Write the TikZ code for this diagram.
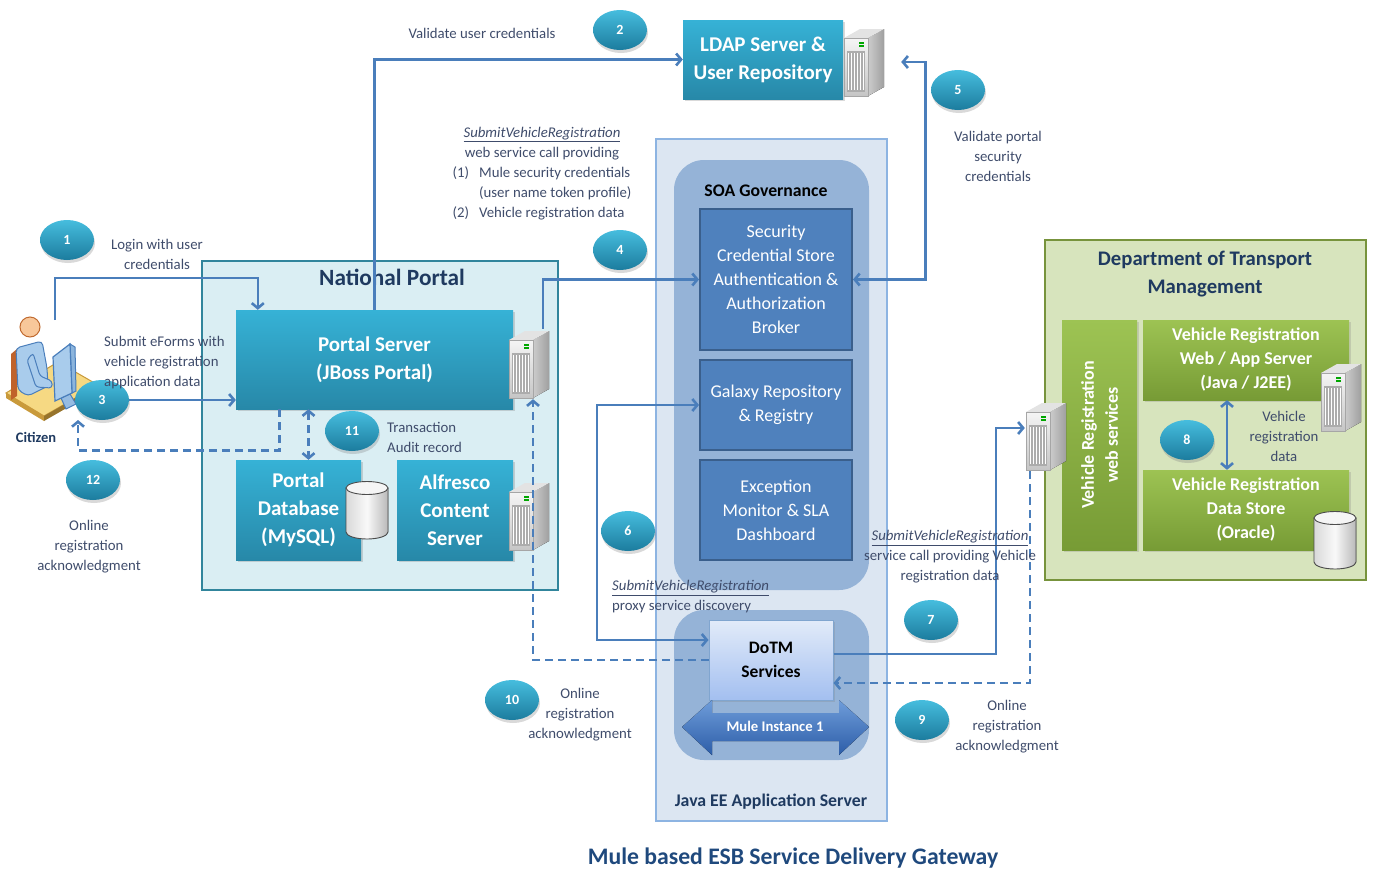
\documentclass[tikz,border=0pt]{standalone}
\usepackage{fontspec}
\setmainfont{Carlito}
\usetikzlibrary{arrows.meta, shapes.geometric, shadows}

\definecolor{flowblue}{HTML}{4A7EBB}
\definecolor{labelgrey}{HTML}{3F4C6B}
\definecolor{navy}{HTML}{1F3A60}
\definecolor{titleblue}{HTML}{1F497D}
\definecolor{cyantop}{HTML}{36B2D6}
\definecolor{cyanbot}{HTML}{2788A8}
\definecolor{steptop}{HTML}{46BDDE}
\definecolor{stepbot}{HTML}{1C7C9E}
\definecolor{soablue}{HTML}{4F81BD}
\definecolor{soaedge}{HTML}{3A5F8C}
\definecolor{soagroup}{HTML}{95B3D7}
\definecolor{javabg}{HTML}{DCE6F2}
\definecolor{javaedge}{HTML}{8DB4E2}
\definecolor{portalbg}{HTML}{DAEEF3}
\definecolor{portaledge}{HTML}{31859C}
\definecolor{dotbg}{HTML}{D7E4BD}
\definecolor{dotedge}{HTML}{77933C}
\definecolor{greentop}{HTML}{9DC353}
\definecolor{greenbot}{HTML}{779B35}
\definecolor{dotmtop}{HTML}{E2EBF9}
\definecolor{dotmbot}{HTML}{A3BFF0}
\definecolor{muletop}{HTML}{6F9DDA}
\definecolor{mulebot}{HTML}{2C5DA8}
\definecolor{deskyellow}{HTML}{F6D983}
\definecolor{deskedge}{HTML}{C99A3B}
\definecolor{chairbrown}{HTML}{C0622A}
\definecolor{bodyblue}{HTML}{A9CCEC}
\definecolor{skin}{HTML}{F8C79A}
\definecolor{skinedge}{HTML}{C06A30}

\newcommand\lblfont{\fontsize{14.8}{20}\selectfont}

\tikzset{
  flow/.style={draw=flowblue, line width=2.6, -{Straight Barb[length=5pt,width=12pt]}},
  flowboth/.style={flow, {Straight Barb[length=5pt,width=12pt]}-{Straight Barb[length=5pt,width=12pt]}},
  flowdash/.style={dash pattern=on 8pt off 5pt},
  lbl/.style={text=labelgrey, font=\lblfont, align=center, inner sep=0},
  stepno/.style={ellipse, minimum width=54, minimum height=40, inner sep=0,
    top color=steptop, bottom color=stepbot, text=white,
    font=\bfseries\fontsize{14}{16}\selectfont,
    drop shadow={shadow xshift=1pt, shadow yshift=-3pt, opacity=0.3}},
  cyanbox/.style={rectangle, top color=cyantop, bottom color=cyanbot, text=white,
    font=\bfseries\fontsize{21}{28}\selectfont, align=center, inner sep=0,
    drop shadow={shadow xshift=2pt, shadow yshift=-2pt, opacity=0.3}},
  soabox/.style={rectangle, fill=soablue, draw=soaedge, line width=2, text=white,
    font=\fontsize{18}{24}\selectfont, align=center, minimum width=152, inner sep=0},
  groupbox/.style={rectangle, rounded corners=30, fill=soagroup},
  greenbox/.style={rectangle, top color=greentop, bottom color=greenbot, text=white,
    font=\bfseries\fontsize{18}{24}\selectfont, align=center, inner sep=0,
    drop shadow={shadow xshift=2pt, shadow yshift=-2pt, opacity=0.25}},
  srvspot/.style={minimum width=42, minimum height=70, inner sep=0},
  diskspot/.style={minimum width=44, minimum height=60, inner sep=0},
  servericon/.pic={
    \fill[left color=gray!40, right color=gray!75] (4,34) -- (20,25) -- (20,-33) -- (4,-24) -- cycle;
    \fill[gray!22] (-20,-24) -- (4,-24) -- (20,-33) -- (-4,-33) -- cycle;
    \fill[top color=gray!8, bottom color=gray!45] (-20,34) rectangle (4,-24);
    \fill[gray!65] (-17,30) rectangle (1,-11);
    \foreach \i in {0,...,5}
      \draw[white, line width=0.8] (-15.5+\i*3,28) -- (-15.5+\i*3,-9);
    \fill[green!65!black] (-5,-15) rectangle (0,-17);
    \fill[green!65!black] (-5,-18.5) rectangle (0,-20.5);
    \draw[gray!70, line width=0.4] (-20,34) rectangle (4,-24);
  },
  diskicon/.pic={
    \filldraw[left color=gray!30, right color=gray!55, middle color=gray!5, draw=gray!60!black, line width=0.9]
      (-21,22) -- (-21,-22) -- (21,-22) -- (21,22) arc[start angle=0, end angle=180, x radius=21, y radius=7] -- cycle;
    \filldraw[fill=gray!8, draw=gray!60!black, line width=0.9] (0,-22) ellipse[x radius=21, y radius=6.5];
  }
}

\begin{document}
\begin{tikzpicture}[x=1pt, y=-1pt]
\useasboundingbox (0,0) rectangle (1373,873);

% areas
\node (javaee) [rectangle, fill=javabg, draw=javaedge, line width=2.5, minimum width=231, minimum height=682] at (771.5,480) {};
\node (soagov) [groupbox, minimum width=195, minimum height=430] at (771.5,375) {};
\node (mulegrp) [groupbox, minimum width=195, minimum height=150] at (771.5,685) {};
\node (natport) [rectangle, fill=portalbg, draw=portaledge, line width=2, minimum width=356, minimum height=329] at (380,425.5) {};
\node (dotarea) [rectangle, fill=dotbg, draw=dotedge, line width=2, minimum width=321, minimum height=340] at (1205.5,410) {};

\node (javaeetitle) [text=navy, font=\bfseries\fontsize{17.8}{20}\selectfont] at (771,802) {Java EE Application Server};
\node (soatitle) [font=\bfseries\fontsize{17.7}{20}\selectfont] at (766,191) {SOA Governance};
\node (natporttitle) [text=navy, font=\bfseries\fontsize{23.3}{26}\selectfont] at (392,277) {National Portal};
\node (dottitle) [text=navy, font=\bfseries\fontsize{20.7}{28}\selectfont, align=center] at (1205,274) {Department of Transport\\Management};

% LDAP
\node (ldap) [cyanbox, minimum width=160, minimum height=79] at (763,59.5) {LDAP Server \&\\User Repository};
\node (ldapsrv) [srvspot] at (864,62) {};

% national portal
\node (portal) [cyanbox, minimum width=277, minimum height=99] at (374.5,359.5) {Portal Server\\(JBoss Portal)};
\node (portsrv) [srvspot] at (529,364) {};
\node (portaldb) [cyanbox, minimum width=125, minimum height=100] at (298.5,510) {Portal\\Database\\(MySQL)};
\node (portdisk) [diskspot] at (367,510) {};
\node (alfresco) [cyanbox, minimum width=116, minimum height=100] at (455,510) {Alfresco\\Content\\Server};
\node (alfsrv) [srvspot] at (529,516) {};

% SOA governance
\node (secur) [soabox, minimum height=141] at (776,279.5) {Security\\Credential Store\\Authentication \&\\Authorization\\Broker};
\node (galaxy) [soabox, minimum height=90] at (776,405) {Galaxy Repository\\\& Registry};
\node (excmon) [soabox, minimum height=100] at (776,510) {Exception\\Monitor \& SLA\\Dashboard};

% mule instance
\node (dotm) [rectangle, top color=dotmtop, bottom color=dotmbot, draw=flowblue!70, line width=1,
  minimum width=124, minimum height=80, align=center, font=\bfseries\fontsize{17.5}{24}\selectfont,
  drop shadow={shadow xshift=2pt, shadow yshift=-2pt, opacity=0.25}] at (771,660) {DoTM\\Services};
\fill[top color=muletop, bottom color=mulebot] (682,727) -- (712,700) -- (712,713) -- (839,713) -- (839,700)
  -- (869,727) -- (839,755) -- (839,741) -- (712,741) -- (712,755) -- cycle;
\node (mule) [text=white, font=\bfseries\fontsize{14.7}{16}\selectfont] at (775,726) {Mule Instance 1};

% department of transport
\node (vrws) [greenbox, rotate=90, minimum width=230, minimum height=75] at (1099.5,435) {Vehicle Registration\\web services};
\node (vrweb) [greenbox, minimum width=206, minimum height=80] at (1246,360) {Vehicle Registration\\Web / App Server\\(Java / J2EE)};
\node (vrsrv) [srvspot] at (1341,397) {};
\node (vrdata) [greenbox, minimum width=206, minimum height=80] at (1246,510) {Vehicle Registration\\Data Store\\(Oracle)};
\node (vrdisk) [diskspot] at (1335,540) {};
\node (wssrv) [srvspot] at (1046,436) {};

% icons
\foreach \s in {ldapsrv, portsrv, alfsrv, vrsrv, wssrv}
  \pic at (\s) {servericon};
\foreach \s in {portdisk, vrdisk}
  \pic at (\s) {diskicon};

% citizen at the desk
\filldraw[fill=deskyellow, draw=deskedge, line width=1] (6,393) -- (58,362) -- (98,385) -- (44,416) -- cycle;
\fill[deskedge] (6,393) -- (44,416) -- (44,421) -- (6,398) -- cycle;
\fill[deskedge!75!black] (44,416) -- (98,385) -- (98,390) -- (44,421) -- cycle;
\fill[chairbrown] (11,354) -- (17,349) -- (17,396) -- (11,400) -- cycle;
\filldraw[fill=bodyblue, draw=flowblue, line width=1, rounded corners=4] (16,348) -- (42,341) -- (47,368) -- (48,386) -- (28,396) -- (18,390) -- cycle;
\filldraw[fill=bodyblue, draw=flowblue, line width=1, rounded corners=3] (33,353) -- (40,376) -- (52,381) -- (52,388) -- (36,387) -- (27,360) -- cycle;
\filldraw[fill=skin, draw=skinedge, line width=1] (30,327) circle[radius=10];
\filldraw[fill=bodyblue!80!flowblue, draw=flowblue, line width=1] (61,398) -- (70,394) -- (76,404) -- (66,409) -- cycle;
\filldraw[fill=bodyblue!70!flowblue, draw=flowblue, line width=1] (70,344) -- (75,347) -- (76,391) -- (72,393) -- cycle;
\filldraw[fill=bodyblue, draw=flowblue, line width=1.2] (53,357) -- (70,344) -- (72,393) -- (55,401) -- cycle;
\node (citizen) [text=navy, font=\bfseries\fontsize{14.5}{16}\selectfont] at (36,437) {Citizen};
\coordinate (citzn) at (55,320);
\coordinate (citin) at (78,420);

% numbered steps
\node (n1) [stepno] at (67,240) {1};
\node (n2) [stepno] at (620,30) {2};
\node (n3) [stepno] at (102,400) {3};
\node (n4) [stepno] at (620,250) {4};
\node (n5) [stepno] at (958,90) {5};
\node (n6) [stepno] at (628,531) {6};
\node (n7) [stepno] at (931,620) {7};
\node (n8) [stepno] at (1187,440) {8};
\node (n9) [stepno] at (922,720) {9};
\node (n10) [stepno] at (512,700) {10};
\node (n11) [stepno] at (352,431) {11};
\node (n12) [stepno] at (93,480) {12};

% connectors
\draw [flow] (citzn) |- ([xshift=22,yshift=32]portal.north west) -- ([xshift=22]portal.north west);
\draw [flow] (portal.north) |- (ldap.west);
\draw [flow] (n3.east) -- (n3.east -| portal.west);
\draw [flow] ([xshift=14]portsrv.north) |- (secur.west);
\draw [flowboth] (secur.east) -| ([xshift=40]ldapsrv.east) -- ([xshift=16]ldapsrv.east);
\draw [flowboth] (galaxy.west) -- ++(-102,0) |- ([yshift=20]dotm.west);
\draw [flow] ([yshift=6]dotm.east) -| ([xshift=-29,yshift=8]wssrv.west) -- ([yshift=8]wssrv.west);
\draw [flowboth] ([xshift=-19]vrweb.south) -- ([xshift=-19]vrdata.north);
\draw [flow, flowdash] ([xshift=-16]wssrv.south) |- ([yshift=-23]dotm.east);
\draw [flow, flowdash] (dotm.west) -| ([xshift=4]portsrv.south);
\draw [flowboth, flowdash] ([xshift=-66]portal.south) -- ([xshift=-66]portal.south |- portaldb.north);
\draw [flow, flowdash] ([xshift=-95]portal.south) -- ++(0,41) -| (citin);

% labels
\node (l1) [lbl] at (157,254) {Login with user\\credentials};
\node (l2) [lbl] at (482,33) {Validate user credentials};
\node (l3) [lbl, align=left, anchor=west] at (104,363) {Submit eForms with\\vehicle registration\\application data};
\node (l4) [lbl] at (542,173) {\begin{tabular}{@{}l@{\hspace{10pt}}l@{}}
  \multicolumn{2}{c}{\underline{\textit{SubmitVehicleRegistration}}}\\
  \multicolumn{2}{c}{web service call providing}\\
  (1) & Mule security credentials\\
      & (user name token profile)\\
  (2) & Vehicle registration data
  \end{tabular}};
\node (l5) [lbl] at (998,156) {Validate portal\\security\\credentials};
\node (l6) [lbl, align=left, anchor=west] at (612,597) {\underline{\textit{SubmitVehicleRegistration}}\\proxy service discovery};
\node (l7) [lbl] at (950,557) {\underline{\textit{SubmitVehicleRegistration}}\\service call providing Vehicle\\registration data};
\node (l8) [lbl] at (1284,436) {Vehicle\\registration\\data};
\node (l9) [lbl] at (1007,727) {Online\\registration\\acknowledgment};
\node (l10) [lbl] at (580,715) {Online\\registration\\acknowledgment};
\node (l11) [lbl, align=left, anchor=west] at (387,437) {Transaction\\Audit record};
\node (l12) [lbl] at (89,547) {Online\\registration\\acknowledgment};

\node (title) [text=titleblue, font=\bfseries\fontsize{23.7}{28}\selectfont] at (793,858) {Mule based ESB Service Delivery Gateway};
\end{tikzpicture}
\end{document}
